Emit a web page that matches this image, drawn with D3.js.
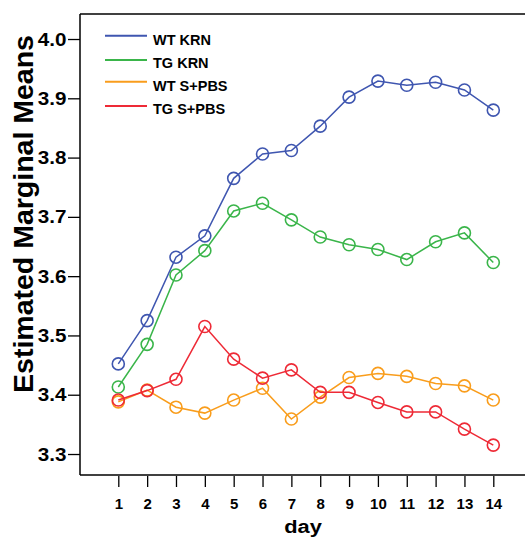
<!DOCTYPE html>
<html>
<head>
<meta charset="utf-8">
<script src="https://cdn.jsdelivr.net/npm/d3@7"></script>
<style>
  html, body { margin: 0; padding: 0; background: #fff; }
  svg { display: block; }
  text { font-family: "Liberation Sans", Arial, sans-serif; font-weight: bold; fill: #000; }
</style>
</head>
<body>
<svg id="chart" width="525" height="538"></svg>
<script>
// Days on the x axis
const days = [1, 2, 3, 4, 5, 6, 7, 8, 9, 10, 11, 12, 13, 14];

// Estimated marginal means per group and day
const wtKRN   = [3.452, 3.525, 3.632, 3.668, 3.765, 3.806, 3.812, 3.853, 3.902, 3.929, 3.922, 3.927, 3.914, 3.880];
const tgKRN   = [3.413, 3.485, 3.602, 3.643, 3.710, 3.723, 3.695, 3.666, 3.653, 3.645, 3.628, 3.658, 3.673, 3.623];
const wtSPBS  = [3.388, 3.408, 3.379, 3.369, 3.391, 3.411, 3.359, 3.396, 3.429, 3.436, 3.431, 3.419, 3.415, 3.391];
const tgSPBS  = [3.391, 3.407, 3.426, 3.515, 3.460, 3.428, 3.442, 3.404, 3.404, 3.387, 3.371, 3.371, 3.342, 3.315];

const seriesNames  = ["WT KRN", "TG KRN", "WT S+PBS", "TG S+PBS"];
const seriesColors = ["#3f56b0", "#3ab54a", "#f99d1c", "#ee2a36"];
const seriesValues = [wtKRN, tgKRN, wtSPBS, tgSPBS];

// Axis ticks
const yTicks = [3.3, 3.4, 3.5, 3.6, 3.7, 3.8, 3.9, 4.0];

const svg = d3.select("#chart");

const plotLeft = 80, plotRight = 525, plotTop = 14, plotBottom = 475;

const x = d3.scaleLinear().domain([1, 14]).range([118.3, 493.3]);
const y = d3.scaleLinear().domain([3.2646, 4.0422]).range([plotBottom, plotTop]);

// Frame: top and bottom edges run off the right side
svg.append("line")
  .attr("x1", plotLeft).attr("x2", plotRight).attr("y1", plotTop).attr("y2", plotTop)
  .attr("stroke", "#000").attr("stroke-width", 1.5);

// Y axis
const yAxis = svg.append("g")
  .attr("transform", `translate(${plotLeft},0)`)
  .call(d3.axisLeft(y).tickValues(yTicks).tickFormat(d3.format(".1f")).tickSize(12).tickSizeOuter(0));
yAxis.select(".domain").remove();
yAxis.append("line")
  .attr("x1", 0).attr("x2", 0).attr("y1", plotTop).attr("y2", plotBottom)
  .attr("stroke", "#000").attr("stroke-width", 1.5);
yAxis.selectAll(".tick line").attr("stroke", "#000").attr("stroke-width", 1.3);
yAxis.selectAll(".tick text")
  .attr("x", null)
  .attr("dy", null)
  .attr("transform", "translate(-13.5,6) scale(1.18,1)")
  .style("font-size", "17.5px")
  .style("font-family", "'Liberation Sans', Arial, sans-serif")
  .style("font-weight", "bold")
  .attr("fill", "#000");

// X axis
const xAxis = svg.append("g")
  .attr("transform", `translate(0,${plotBottom})`)
  .call(d3.axisBottom(x).tickValues(days).tickFormat(d3.format("d")).tickSize(12).tickSizeOuter(0));
xAxis.select(".domain").remove();
xAxis.append("line")
  .attr("x1", plotLeft).attr("x2", plotRight).attr("y1", 0).attr("y2", 0)
  .attr("stroke", "#000").attr("stroke-width", 1.5);
xAxis.selectAll(".tick line").attr("stroke", "#000").attr("stroke-width", 1.3).attr("y1", 1);
xAxis.selectAll(".tick text")
  .attr("y", 34)
  .attr("dy", null)
  .style("font-size", "15px")
  .style("font-family", "'Liberation Sans', Arial, sans-serif")
  .style("font-weight", "bold")
  .attr("fill", "#000");

// Axis titles
svg.append("text")
  .attr("transform", `translate(303,533) scale(1.15,1)`)
  .attr("text-anchor", "middle")
  .style("font-size", "19px")
  .text("day");

svg.append("text")
  .attr("transform", "translate(33,214) rotate(-90)")
  .attr("text-anchor", "middle")
  .style("font-size", "28.5px")
  .text("Estimated Marginal Means");

// Lines and hollow circle markers
const line = d3.line().x((d, i) => x(days[i])).y(d => y(d));

seriesValues.forEach((vals, s) => {
  const g = svg.append("g");
  g.append("path")
    .datum(vals)
    .attr("d", line)
    .attr("fill", "none")
    .attr("stroke", seriesColors[s])
    .attr("stroke-width", 1.5);
  g.selectAll("circle")
    .data(vals)
    .join("circle")
    .attr("cx", (d, i) => x(days[i]))
    .attr("cy", d => y(d))
    .attr("r", 6)
    .attr("fill", "none")
    .attr("stroke", seriesColors[s])
    .attr("stroke-width", 1.6);
});

// Legend
const legendLineY = [35.7, 60, 81.7, 106];
const legendTextY = [45, 67.5, 91, 114];
const legend = svg.append("g");
seriesNames.forEach((name, i) => {
  legend.append("line")
    .attr("x1", 105).attr("x2", 147)
    .attr("y1", legendLineY[i]).attr("y2", legendLineY[i])
    .attr("stroke", seriesColors[i]).attr("stroke-width", 2);
  legend.append("text")
    .attr("x", 153).attr("y", legendTextY[i])
    .style("font-size", "14.5px")
    .text(name);
});
</script>
</body>
</html>
